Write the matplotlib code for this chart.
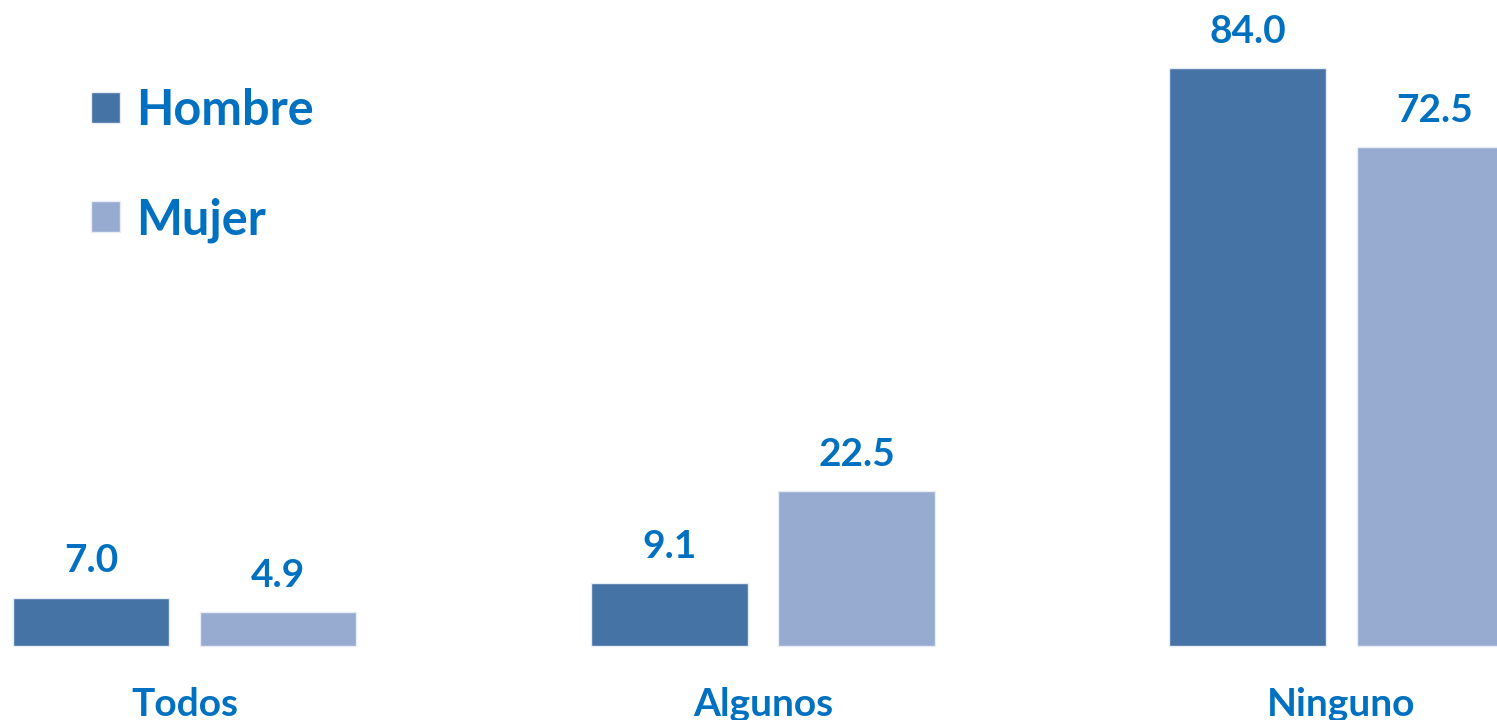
import matplotlib.pyplot as plt
import numpy as np

categories = ['Todos', 'Algunos', 'Ninguno']
hombre = [7.0, 9.1, 84.0]
mujer = [4.9, 22.5, 72.5]

blue_text = '#0070C0'
c_hombre = '#4673A6'
c_mujer = '#97AAD0'

plt.rcParams['font.family'] = ['Lato', 'DejaVu Sans']
plt.rcParams['font.weight'] = 'bold'

fig = plt.figure(figsize=(14.97, 7.2), dpi=100)
ax = fig.add_axes([0, 0, 1, 1])

x = np.arange(len(categories))
w = 0.271
off = 0.1617
b1 = ax.bar(x - off, hombre, w, color=c_hombre, edgecolor='#E8EDF5', linewidth=1, label='Hombre')
b2 = ax.bar(x + off, mujer, w, color=c_mujer, edgecolor='#E8EDF5', linewidth=1, label='Mujer')

for bars, vals in [(b1, hombre), (b2, mujer)]:
    for r, v in zip(bars, vals):
        ax.annotate(f'{v:.1f}', (r.get_x() + r.get_width() / 2, r.get_height()),
                    xytext=(0, 14), textcoords='offset points', ha='center', va='bottom',
                    fontsize=28, fontweight='bold', color=blue_text)

for xi, c in zip(x, categories):
    ax.text(xi, -10.2, c, ha='center', va='baseline', fontsize=28, fontweight='bold', color=blue_text)

ax.set_xlim(-0.319, 2.269)
ax.set_ylim(-10.75, 93.88)
ax.axis('off')

leg = ax.legend(loc='upper left', bbox_to_anchor=(0.061, 0.878), frameon=False,
                fontsize=35, handlelength=0.6, handleheight=0.6, handletextpad=0.33,
                labelspacing=1.32, borderpad=0, borderaxespad=0)
for t in leg.get_texts():
    t.set_color(blue_text)
    t.set_fontweight('bold')

fig.savefig('out.png', dpi=100)
